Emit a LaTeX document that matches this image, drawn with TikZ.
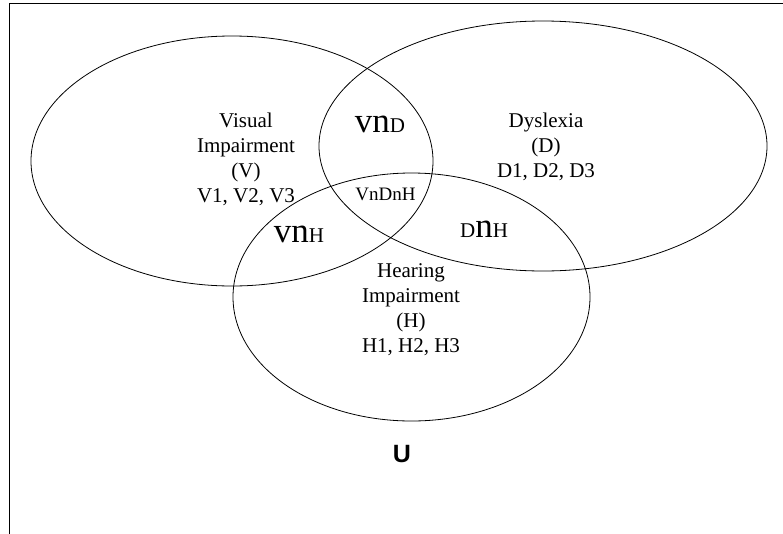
\documentclass[tikz,border=0pt]{standalone}
\usepackage{fontspec}
\setmainfont{Liberation Serif}
\newfontfamily\unifont{Liberation Sans}
\newcommand{\bigsym}[1]{{\fontsize{35}{35}\selectfont #1}}

\begin{document}
\begin{tikzpicture}[x=1pt,y=-1pt,
    setline/.style={line width=0.8pt},
    setlabel/.style={align=center,anchor=base,inner sep=0pt,
        font=\fontsize{21}{25}\selectfont},
    cutlabel/.style={anchor=base,inner sep=0pt,
        font=\fontsize{21}{25}\selectfont}]
    \useasboundingbox (0,0) rectangle (783,533);

    % frame of the universe
    \draw[line width=1.3pt] (9.5,545) -- (9.5,3.5) -- (800,3.5);

    % the three sets
    \draw[setline] (232,161) ellipse [x radius=201pt, y radius=125pt];
    \draw[setline] (543,146) ellipse [x radius=224pt, y radius=125pt];
    \draw[setline] (411.5,297) ellipse [x radius=178.5pt, y radius=124pt];

    % set names (anchored at the last line)
    \node[setlabel] (vis) at (246,202)
        {Visual\\Impairment\\(V)\\V1, V2, V3};
    \node[setlabel] (dys) at (546,177)
        {Dyslexia\\(D)\\D1, D2, D3};
    \node[setlabel] (hear) at (411,352)
        {Hearing\\Impairment\\(H)\\H1, H2, H3};

    % intersections
    \node[cutlabel] (vd) at (380,132) {\bigsym{vn}D};
    \node[cutlabel,font=\fontsize{19}{19}\selectfont] (vdh) at (385.5,200) {VnDnH};
    \node[cutlabel] (vh) at (299,242) {\bigsym{vn}H};
    \node[cutlabel] (dh) at (484,237) {D\bigsym{n}H};

    % universe
    \node[anchor=base,inner sep=0pt,font=\unifont\bfseries\fontsize{25}{25}\selectfont]
        (univ) at (402,462) {U};
\end{tikzpicture}
\end{document}
